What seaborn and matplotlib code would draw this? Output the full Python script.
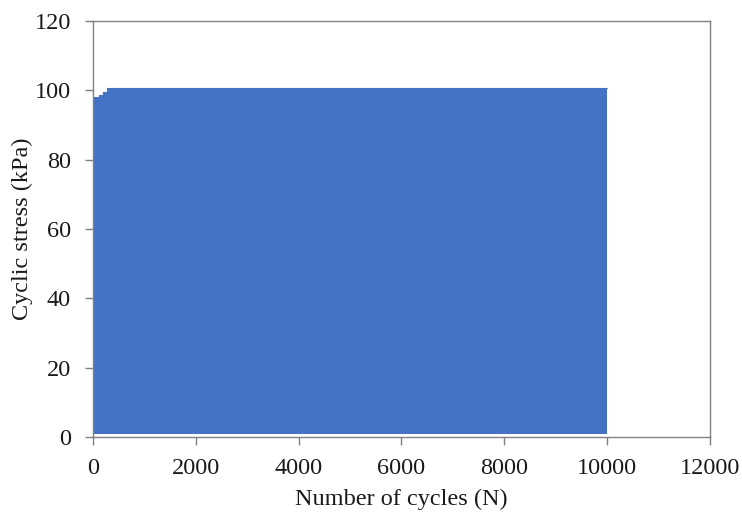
import matplotlib
matplotlib.use("Agg")
import matplotlib.pyplot as plt
import seaborn as sns
import pandas as pd

# Envelope of the cyclic loading
cycle_breaks = [0, 117, 194, 272, 10000]
peak_stress = [98.0, 98.7, 99.5, 100.8, 100.8]
trough_stress = [1.0, 1.0, 1.0, 1.0, 1.0]

x_ticks = [0, 2000, 4000, 6000, 8000, 10000, 12000]
y_ticks = [0, 20, 40, 60, 80, 100, 120]

sns.set_theme(style="white")
plt.rcParams['font.family'] = ['Liberation Serif', 'DejaVu Serif']

df = pd.DataFrame({"N": cycle_breaks, "peak": peak_stress, "trough": trough_stress})

fig = plt.figure(figsize=(7.42, 5.15), dpi=100)
ax = fig.add_axes([0.1253, 0.1515, 0.8316, 0.8077])

blue = "#4472C4"
ax.fill_between(df["N"], df["trough"], df["peak"], step="post", color=blue, linewidth=0)
sns.lineplot(data=df, x="N", y="peak", drawstyle="steps-post", color=blue, lw=0.8, ax=ax)

ax.set_xlim(0, 12000)
ax.set_ylim(0, 120)
ax.set_xticks(x_ticks)
ax.set_yticks(y_ticks)
ax.set_xlabel("Number of cycles (N)", fontsize=17.5, color="#1a1a1a", labelpad=7)
ax.set_ylabel("Cyclic stress (kPa)", fontsize=17.5, color="#1a1a1a", labelpad=1)

for s in ax.spines.values():
    s.set_color("#808080")
    s.set_linewidth(1.0)
ax.tick_params(axis="both", which="major", direction="out", length=6, width=1.0,
               color="#808080", labelsize=17.5, labelcolor="#1a1a1a",
               bottom=True, left=True)
ax.tick_params(axis="y", pad=10)
ax.tick_params(axis="x", pad=9)

fig.savefig("out.png", dpi=100)
